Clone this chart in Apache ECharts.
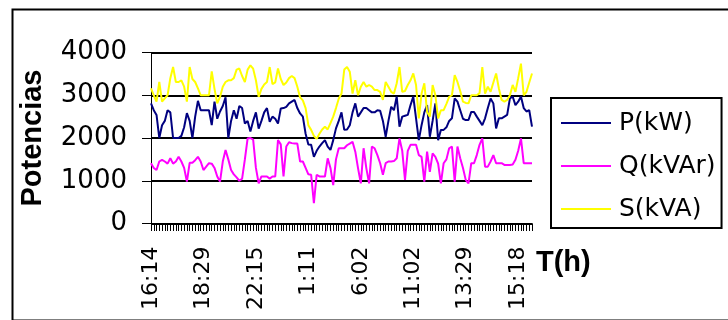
<!DOCTYPE html>
<html>
<head>
<meta charset="utf-8">
<script src="https://cdn.jsdelivr.net/npm/echarts@6/dist/echarts.min.js"></script>
<style>html,body{margin:0;padding:0;background:#fff;}#chart{width:728px;height:320px;}</style>
</head>
<body>
<div id="chart"></div>
<script>
const tickLabels = ['16:14','18:29','22:15','1:11','6:02','11:02','13:29','15:18'];
const labelStep = 19;
const pointCount = 139;
const yTicks = [0, 1000, 2000, 3000, 4000];

const P = [2810,2650,2540,2000,2300,2400,2650,2600,2000,2000,2000,2050,2250,2580,2400,2000,2500,2870,2650,2650,
2650,2650,2300,2850,2450,2620,2750,2950,2000,2400,2650,2450,2750,2700,2340,2400,2150,2400,2600,2220,
2400,2600,2700,2380,2500,2450,2340,2690,2700,2730,2810,2850,2890,2700,2575,2500,2100,1850,1840,1560,
1700,1800,1880,1950,1800,1720,1950,2225,2400,2600,2190,2200,2300,2600,2810,2500,2600,2700,2700,2650,
2600,2600,2650,2640,2400,2030,2400,2730,2650,2970,2265,2500,2520,2540,2770,2970,2460,1950,2300,2600,
2770,2030,2400,2810,1950,2190,2190,2250,2400,2460,2925,2850,2650,2450,2420,2420,2610,2610,2500,2400,
2300,2460,2700,2925,2810,2225,2460,2460,2500,2540,2925,2970,2770,2850,2970,2700,2620,2650,2265];

const Q = [1410,1300,1250,1450,1490,1450,1400,1525,1400,1450,1560,1450,1300,980,1420,1420,1480,1560,1450,1250,
1330,1410,1400,1300,1100,980,1450,1720,1500,1250,1150,1080,1000,1050,1500,1990,2000,1960,1300,940,
1100,1100,1100,1050,1100,1100,1950,1850,1100,1800,1900,1880,1870,1870,1450,1450,1300,1150,1140,475,
1140,1100,1100,1100,1525,1300,900,1500,1760,1760,1760,1830,1870,1910,1680,1290,940,1760,1290,940,
1800,1760,1600,1410,1140,1410,1450,1450,1460,1525,1990,1700,1020,1700,1840,1840,1840,1600,1560,980,
1680,1210,1640,1560,1400,940,1410,1500,1760,1800,980,1800,1525,1300,1020,940,1410,1410,1600,1840,
1990,1330,1330,1450,1600,1410,1410,1410,1370,1370,1370,1380,1490,1700,1990,1410,1410,1410,1410];

const S = [3160,3000,2850,3310,2850,2925,3000,3400,3660,3310,3310,3350,3200,2850,3660,3380,3310,3160,3000,3000,
3000,3000,3560,3150,2810,2960,3200,3310,3350,3350,3400,3600,3625,3450,3310,3600,3700,3620,3350,2960,
3150,3250,3310,3660,3260,3300,3625,3380,3240,3300,3400,3450,3400,3200,2950,2880,2700,2300,2190,2050,
1980,2100,2200,2265,2200,2350,2500,2700,2920,3040,3600,3660,3550,3040,3350,3000,3200,3310,3200,3240,
3200,3120,3120,3080,2890,3310,3200,3080,3040,3280,3660,3080,3100,3240,3350,3510,3240,2460,3040,3280,
2610,2500,3240,3000,2460,2650,2650,2800,2960,3000,3470,3310,3100,2850,2820,2810,3000,3000,3000,3050,
3660,3040,3200,3080,3300,3510,3160,2890,2850,2890,3000,3240,3080,3400,3740,3000,3080,3300,3510];

const seriesNames = ['P(kW)', 'Q(kVAr)', 'S(kVA)'];
const seriesColors = ['#000080', '#FF00FF', '#FFFF00'];

// category axis: one category per sample, the visible time labels every labelStep samples
const categories = [];
for (let i = 0; i < pointCount; i++) {
  const k = i / labelStep;
  categories.push(Number.isInteger(k) && k < tickLabels.length ? tickLabels[k] : '');
}

const chart = echarts.init(document.getElementById('chart'), null, {renderer: 'canvas'});
const titleFont = 'Liberation Sans, Arial, sans-serif';
const textFont = 'DejaVu Sans, sans-serif';
chart.setOption({
  animation: false,
  backgroundColor: '#fff',
  graphic: [
    {type: 'rect', left: 10, top: 7, shape: {x: 0, y: 0, width: 717, height: 311}, z: -10,
     style: {fill: 'none', stroke: '#000', lineWidth: 2}},
    {type: 'text', left: 536, top: 248, style: {text: 'T(h)', font: 'bold 29px ' + titleFont, fill: '#000'}}
  ],
  grid: [
    {left: 151, right: 196, top: 52.5, bottom: 96.5, containLabel: false},
    // thin strip under the plot: its vertical split lines act as the category tick marks
    {left: 151, right: 196, top: 224, height: 7, containLabel: false}
  ],
  legend: {
    orient: 'vertical', left: 551, top: 98,
    data: seriesNames,
    icon: 'rect', itemWidth: 50, itemHeight: 2, itemGap: 17,
    padding: [12, 6, 6, 10],
    borderColor: '#000', borderWidth: 2,
    textStyle: {fontFamily: textFont, fontSize: 25, color: '#000', lineHeight: 26, padding: [0, 0, 0, 3]}
  },
  xAxis: [{
    gridIndex: 0,
    type: 'category', data: categories, boundaryGap: false,
    axisLine: {show: true, lineStyle: {color: '#000', width: 1}},
    axisTick: {show: true, interval: 0, length: 7, lineStyle: {color: '#000', width: 1}},
    axisLabel: {interval: labelStep - 1, rotate: 90, margin: 23, fontFamily: textFont, fontSize: 22,
                color: '#000', padding: [0, 0, 8, 0]},
    splitLine: {show: false}
  }, {
    gridIndex: 1,
    type: 'category', data: categories, boundaryGap: false,
    axisLine: {show: false}, axisTick: {show: false}, axisLabel: {show: false},
    splitLine: {show: true, interval: 0, lineStyle: {color: '#000', width: 1}}
  }],
  yAxis: [{
    gridIndex: 0,
    type: 'value', min: yTicks[0], max: yTicks[yTicks.length - 1], interval: 1000,
    name: 'Potencias', nameLocation: 'middle', nameGap: 104, nameRotate: 90,
    nameTextStyle: {fontFamily: titleFont, fontSize: 29, fontWeight: 'bold', color: '#000'},
    axisLine: {show: true, lineStyle: {color: '#000', width: 1}},
    axisTick: {show: true, length: 9, lineStyle: {color: '#000', width: 1}},
    axisLabel: {margin: 24, fontFamily: textFont, fontSize: 26, color: '#000',
                formatter: v => String(v)},
    splitLine: {show: true, lineStyle: {color: '#000', width: 2}}
  }, {
    gridIndex: 1, type: 'value', min: 0, max: 1,
    axisLine: {show: false}, axisTick: {show: false}, axisLabel: {show: false}, splitLine: {show: false}
  }],
  series: seriesNames.map((name, idx) => ({
    name: name, type: 'line', data: [P, Q, S][idx], showSymbol: false, symbol: 'none',
    xAxisIndex: 0, yAxisIndex: 0,
    lineStyle: {color: seriesColors[idx], width: 2}, itemStyle: {color: seriesColors[idx]}
  }))
});
</script>
</body>
</html>
